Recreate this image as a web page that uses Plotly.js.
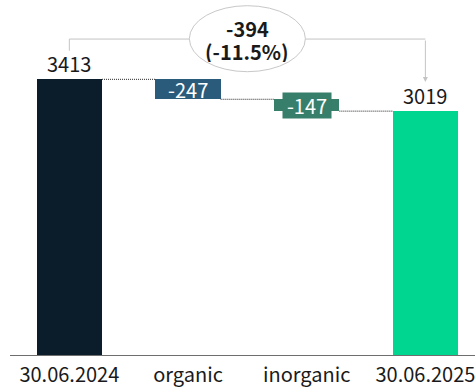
<!DOCTYPE html>
<html>
<head>
<meta charset="utf-8">
<script src="https://cdn.plot.ly/plotly-3.0.1.min.js"></script>
<style>
  html, body { margin: 0; padding: 0; background: #ffffff; }
  #chart { width: 475px; height: 390px; }
</style>
</head>
<body>
<div id="chart"></div>
<script>
// Bridge from the opening level to the closing level
const categories = ['30.06.2024', 'organic', 'inorganic', '30.06.2025'];
const startValue = 3413;
const changes = [-247, -147];
const endValue = 3019;
const barColors = ['#0b1c2a', '#2b5b7b', '#377f6b', '#00d68f'];

const FONT = '"Noto Sans CJK SC", "Noto Sans", sans-serif';
const TEXT = '#1a1a1a';
const BAR_WIDTH = 0.55;

// floating bars: each change hangs from the running level
const heights = [];
const bases = [];
const levels = [startValue];
heights.push(startValue); bases.push(0);
let level = startValue;
changes.forEach(c => {
  const next = level + c;
  heights.push(Math.abs(c));
  bases.push(Math.min(level, next));
  level = next;
  levels.push(level);
});
heights.push(endValue); bases.push(0);

const bars = {
  type: 'bar',
  x: categories,
  y: heights,
  base: bases,
  width: BAR_WIDTH,
  marker: { color: barColors, line: { width: 0 } },
  hoverinfo: 'skip'
};

// dotted connectors between neighbouring bar edges
const shapes = levels.map((lv, i) => ({
  type: 'line', xref: 'x', yref: 'y',
  x0: i + BAR_WIDTH / 2, x1: i + 1 - BAR_WIDTH / 2,
  y0: lv, y1: lv,
  line: { color: '#222222', width: 1, dash: '1px,1px' }
}));

// bracket with the total change
const total = endValue - startValue;
const pct = (total / startValue * 100).toFixed(1);
const bracketY = 0.89;
const grey = '#c4c4c4';
shapes.push(
  { type: 'line', xref: 'x', yref: 'paper', x0: 0, x1: 0, y0: 0.857, y1: bracketY, line: { color: grey, width: 1 } },
  { type: 'line', xref: 'x', yref: 'paper', x0: 0, x1: 1.5, y0: bracketY, y1: bracketY, line: { color: grey, width: 1 } },
  { type: 'line', xref: 'x', yref: 'paper', x0: 1.5, x1: 3, y0: bracketY, y1: bracketY, line: { color: grey, width: 1 } },
  {
    type: 'circle', xref: 'x', yref: 'paper',
    xsizemode: 'pixel', ysizemode: 'pixel',
    xanchor: 1.5, yanchor: 0.891,
    x0: -58, x1: 58, y0: -33, y1: 33,
    fillcolor: '#ffffff', line: { color: '#c8c8c8', width: 1 }
  }
);

const annotations = [
  { x: 0, y: startValue, text: String(startValue), yanchor: 'bottom', yshift: -1,
    showarrow: false, font: { family: FONT, size: 20, color: TEXT } },
  { x: 3, y: endValue, text: String(endValue), yanchor: 'bottom', yshift: -1,
    showarrow: false, font: { family: FONT, size: 20, color: TEXT } },
  { x: 1, y: bases[1] + heights[1] / 2, text: String(changes[0]),
    showarrow: false, font: { family: FONT, size: 20, color: '#ffffff' } },
  { x: 2, y: bases[2] + heights[2] / 2, text: String(changes[1]),
    showarrow: false, bgcolor: barColors[2], width: 46, height: 23,
    font: { family: FONT, size: 20, color: '#ffffff' } },
  // total change inside the ellipse, one line each
  { x: 1.5, xref: 'x', y: 0.922, yref: 'paper', yanchor: 'middle', xanchor: 'center',
    text: '<b>' + total + '</b>', height: 22,
    showarrow: false, font: { family: FONT, size: 20, color: TEXT } },
  { x: 1.5, xref: 'x', y: 0.855, yref: 'paper', yanchor: 'middle', xanchor: 'center',
    text: '<b>(' + pct + '%)</b>', height: 22,
    showarrow: false, font: { family: FONT, size: 20, color: TEXT } },
  // arrow down to the closing bar label
  { x: 3, xref: 'x', y: 0.769, yref: 'paper', text: '',
    showarrow: true, ax: 0, ay: -43, arrowhead: 2, arrowsize: 1, arrowwidth: 1,
    arrowcolor: grey, standoff: 0 }
];

const layout = {
  width: 475, height: 390,
  margin: { l: 10, r: 0, t: 0, b: 35 },
  paper_bgcolor: '#ffffff', plot_bgcolor: '#ffffff',
  showlegend: false,
  bargap: 0,
  xaxis: {
    type: 'category', range: [-0.5, 3.418],
    showgrid: false, zeroline: false,
    showline: true, linecolor: '#6e6e6e', linewidth: 1,
    ticks: '', tickfont: { family: FONT, size: 20, color: TEXT },
    ticklabelstandoff: 2,
    fixedrange: true
  },
  yaxis: {
    range: [0, 4395], visible: false, fixedrange: true
  },
  shapes: shapes,
  annotations: annotations
};

Plotly.newPlot('chart', [bars], layout, { displayModeBar: false, staticPlot: true });
</script>
</body>
</html>
